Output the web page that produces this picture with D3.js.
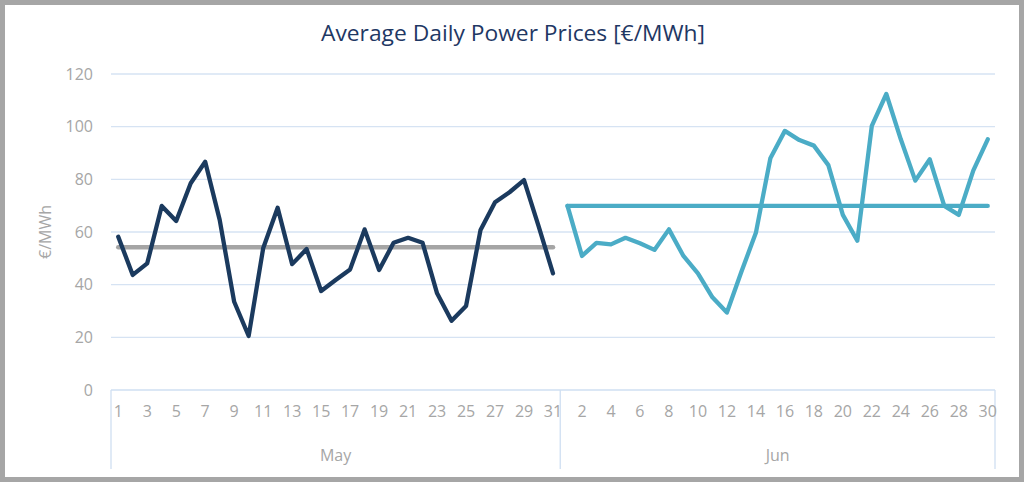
<!DOCTYPE html>
<html><head><meta charset="utf-8">
<script src="https://cdn.jsdelivr.net/npm/d3@7"></script>
<style>
html,body{margin:0;padding:0;background:#fff;}
svg{display:block;}
</style></head>
<body>
<svg id="c" width="1024" height="482"></svg>
<script>
const title = "Average Daily Power Prices [€/MWh]";
const yTitle = "€/MWh";
const months = ["May", "Jun"];
const mayDays = d3.range(1, 32);
const junDays = d3.range(1, 31);
const mayPrices = [58.2,43.7,48.1,69.9,64.2,78.5,86.7,64.6,33.5,20.5,53.8,69.2,47.8,53.5,37.6,41.8,45.8,61.0,45.6,55.9,57.8,55.9,36.7,26.3,31.9,60.8,71.3,75.1,79.7,62.3,44.3];
const junPrices = [69.9,50.9,55.9,55.3,57.8,55.7,53.2,61.0,50.9,44.3,35.2,29.4,44.9,59.7,88.0,98.4,94.9,92.8,85.4,66.5,56.7,100.3,112.4,95.2,79.5,87.6,69.9,66.5,83.3,95.2];
const mayAvg = 54.2;
const junAvg = 69.9;
const yTicks = [0,20,40,60,80,100,120];

(function(){
const svg = d3.select("#c");
const W = 1024, H = 482;
const pL = 111, pR = 995, pT = 74, pB = 390;

const cats = [];
mayDays.forEach(d => cats.push({m:"May", d}));
junDays.forEach(d => cats.push({m:"Jun", d}));
const key = c => c.m + c.d;

const x = d3.scaleBand().domain(cats.map(key)).range([pL, pR]).paddingInner(0).paddingOuter(0);
const cx = k => x(k) + x.bandwidth()/2;
const y = d3.scaleLinear().domain([0,120]).range([pB, pT]);

svg.append("rect").attr("x",2.5).attr("y",2.5).attr("width",W-5).attr("height",H-5)
  .attr("fill","#fff").attr("stroke","#a6a6a6").attr("stroke-width",5);

svg.append("text").attr("x",513).attr("y",41).attr("text-anchor","middle")
  .attr("font-family","'Open Sans',sans-serif")
  .attr("font-size",21).attr("fill","#1f3864")
  .attr("textLength",384).attr("lengthAdjust","spacingAndGlyphs").text(title);

const grid = svg.append("g");
yTicks.filter(t=>t>0).forEach(t=>{
  grid.append("line").attr("x1",pL).attr("x2",pR).attr("y1",y(t)).attr("y2",y(t))
    .attr("stroke","#d6e3f3").attr("stroke-width",1.3);
});

const yAxis = d3.axisLeft(y).tickValues(yTicks).tickSize(0).tickPadding(18);
const ya = svg.append("g").attr("transform",`translate(${pL},0)`).call(yAxis);
ya.select(".domain").remove();
ya.selectAll("text").attr("font-family","'Open Sans',sans-serif").attr("font-size",16).attr("fill","#a6a6a6");

svg.append("text").attr("transform",`translate(51,${y(60)}) rotate(-90)`).attr("text-anchor","middle")
  .attr("font-family","'Open Sans',sans-serif").attr("font-size",16).attr("fill","#a6a6a6").text(yTitle);

const axisCol = "#cfdff2";
svg.append("line").attr("x1",pL).attr("x2",pR).attr("y1",pB).attr("y2",pB).attr("stroke",axisCol).attr("stroke-width",1.3);
[pL, x("Jun1"), pR].forEach(v=>{
  svg.append("line").attr("x1",v).attr("x2",v).attr("y1",pB).attr("y2",469).attr("stroke",axisCol).attr("stroke-width",1.3);
});

const xAxis = d3.axisBottom(x)
  .tickValues(cats.filter(c => (c.m==="May" && c.d%2===1) || (c.m==="Jun" && c.d%2===0)).map(key))
  .tickFormat(k => k.slice(3)).tickSize(0).tickPadding(16);
const xa = svg.append("g").attr("transform",`translate(0,${pB})`).call(xAxis);
xa.select(".domain").remove();
xa.selectAll("text").attr("font-family","'Open Sans',sans-serif").attr("font-size",16).attr("fill","#a6a6a6");

const monthCenter = {May:(pL + x("Jun1"))/2, Jun:(x("Jun1") + pR)/2};
months.forEach(m=>{
  svg.append("text").attr("x",monthCenter[m]).attr("y",461).attr("text-anchor","middle")
    .attr("font-family","'Open Sans',sans-serif").attr("font-size",16).attr("fill","#a6a6a6").text(m);
});

const line = d3.line().x(d=>cx(d.k)).y(d=>y(d.v));
svg.append("path").datum([{k:"May1",v:mayAvg},{k:"May31",v:mayAvg}]).attr("d",line)
  .attr("fill","none").attr("stroke","#a5a5a5").attr("stroke-width",4.5).attr("stroke-linecap","round");

svg.append("path").datum(mayDays.map((d,i)=>({k:"May"+d, v:mayPrices[i]}))).attr("d",line)
  .attr("fill","none").attr("stroke","#1b3a5e").attr("stroke-width",4.3).attr("stroke-linejoin","round").attr("stroke-linecap","round");

svg.append("path").datum([{k:"Jun1",v:junAvg},{k:"Jun30",v:junAvg}]).attr("d",line)
  .attr("fill","none").attr("stroke","#4bacc6").attr("stroke-width",4.3).attr("stroke-linecap","round");

svg.append("path").datum(junDays.map((d,i)=>({k:"Jun"+d, v:junPrices[i]}))).attr("d",line)
  .attr("fill","none").attr("stroke","#4bacc6").attr("stroke-width",4.3).attr("stroke-linejoin","round").attr("stroke-linecap","round");
})();
</script>
</body></html>
